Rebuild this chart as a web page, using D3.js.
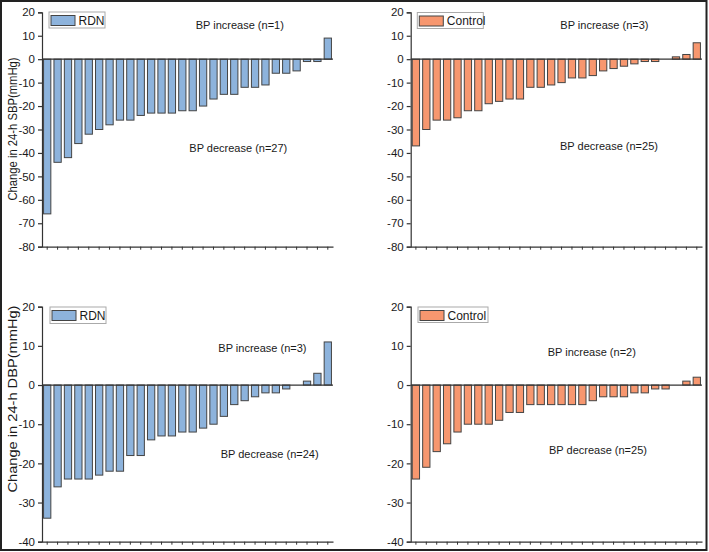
<!DOCTYPE html>
<html>
<head>
<meta charset="utf-8">
<script src="https://cdn.jsdelivr.net/npm/d3@7"></script>
<style>
  html, body { margin: 0; padding: 0; background: #fff; }
  svg { display: block; }
  text { font-family: "Liberation Sans", Arial, sans-serif; fill: #1a1a1a; }
</style>
</head>
<body>
<svg id="chart" width="709" height="552"></svg>
<script>
// ---- data ----
const rdnSBP  = [-66,-44,-42,-36,-32,-30,-28,-26,-26,-24,-23,-23,-23,-22,-22,-20,-17,-15,-15,-12,-12,-11,-6,-6,-5,-1,-1,9];
const ctrlSBP = [-37,-30,-26,-26,-25,-22,-22,-19,-18,-17,-17,-12,-12,-11,-10,-8,-8,-7,-5,-4,-3,-2,-1,-1,0,1,2,7];
const rdnDBP  = [-34,-26,-24,-24,-24,-23,-22,-22,-18,-18,-14,-13,-13,-12,-12,-11,-10,-8,-5,-4,-3,-2,-2,-1,0,1,3,11];
const ctrlDBP = [-24,-21,-17,-15,-12,-10,-10,-10,-9,-7,-7,-5,-5,-5,-5,-5,-5,-4,-3,-3,-3,-2,-2,-1,-1,0,1,2];
const sbpTicks = [20,10,0,-10,-20,-30,-40,-50,-60,-70,-80];
const dbpTicks = [20,10,0,-10,-20,-30,-40];
const legendNames = ["RDN","Control","RDN","Control"];
const increaseLabels = ["BP increase (n=1)","BP increase (n=3)","BP increase (n=3)","BP increase (n=2)"];
const decreaseLabels = ["BP decrease (n=27)","BP decrease (n=25)","BP decrease (n=24)","BP decrease (n=25)"];
const yTitles = ["Change in 24-h SBP(mmHg)", "Change in 24-h DBP(mmHg)"];

const blue = "#8db3dc", orange = "#f7976f", stroke = "#444";

const svg = d3.select("#chart");

// outer frame
svg.append("rect").attr("x",1).attr("y",1).attr("width",705.5).attr("height",549)
  .attr("fill","none").attr("stroke","#222").attr("stroke-width",2);

const panels = [
  {data: rdnSBP,  color: blue,   x0: 42,    x1: 333, yDom: [-80,20], yr: [246.7,12.3], ticks: sbpTicks,
   leg: {x:49, y:12, w:56, h:16}, inc: {x:195.7, y:29.3}, dec: {x:189.3, y:151.5}},
  {data: ctrlSBP, color: orange, x0: 410.7, x1: 702, yDom: [-80,20], yr: [246.7,12.3], ticks: sbpTicks,
   leg: {x:417.3, y:12.5, w:66, h:16}, inc: {x:560.3, y:29.3}, dec: {x:560, y:150}},
  {data: rdnDBP,  color: blue,   x0: 42,    x1: 333, yDom: [-40,20], yr: [541.7,306.7], ticks: dbpTicks,
   leg: {x:50, y:307, w:56, h:16.5}, inc: {x:218.3, y:351.5}, dec: {x:220.7, y:457.5}},
  {data: ctrlDBP, color: orange, x0: 410.7, x1: 702, yDom: [-40,20], yr: [541.7,306.7], ticks: dbpTicks,
   leg: {x:418, y:307, w:70, h:15.5}, inc: {x:547.7, y:355.5}, dec: {x:549, y:454}}
];

panels.forEach((p, i) => {
  const g = svg.append("g");
  const x = d3.scaleBand().domain(d3.range(p.data.length)).range([p.x0, p.x1])
    .paddingInner(0.3).paddingOuter(0.15);
  const y = d3.scaleLinear().domain(p.yDom).range(p.yr);

  // bars
  g.selectAll("rect.bar").data(p.data.map((v,k)=>({v,k})).filter(d => d.v !== 0))
    .join("rect").attr("class","bar")
    .attr("x", d => x(d.k))
    .attr("width", x.bandwidth())
    .attr("y", d => y(Math.max(0, d.v)))
    .attr("height", d => Math.abs(y(d.v) - y(0)))
    .attr("fill", p.color).attr("stroke", stroke).attr("stroke-width", 1);

  // zero line
  g.append("line").attr("x1", p.x0).attr("x2", p.x1).attr("y1", y(0)).attr("y2", y(0))
    .attr("stroke", "#333").attr("stroke-width", 1.2);

  // y axis
  const ya = g.append("g").attr("transform", `translate(${p.x0},0)`)
    .call(d3.axisLeft(y).tickValues(p.ticks).tickSize(4).tickPadding(3).tickFormat(d => String(d)));
  ya.select(".domain").attr("stroke","#333").attr("stroke-width",1.2);
  ya.selectAll(".tick line").attr("stroke","#333").attr("stroke-width",1.2);
  ya.selectAll(".tick text").style("font-size","11.5px").attr("fill","#1a1a1a")
    .style("font-family","'Liberation Sans', Arial, sans-serif");

  // x axis
  const xa = g.append("g").attr("transform", `translate(0,${p.yr[0]})`)
    .call(d3.axisBottom(x).tickSize(3).tickSizeOuter(0).tickFormat(""));
  xa.select(".domain").attr("stroke","#333").attr("stroke-width",1.2);
  xa.selectAll(".tick line").attr("stroke","#333").attr("stroke-width",1);

  // legend
  const L = p.leg;
  g.append("rect").attr("x",L.x).attr("y",L.y).attr("width",L.w).attr("height",L.h)
    .attr("fill","#fff").attr("stroke","#aaa").attr("stroke-width",1);
  g.append("rect").attr("x",L.x+2).attr("y",L.y+3.5).attr("width",24).attr("height",10)
    .attr("fill",p.color).attr("stroke",stroke).attr("stroke-width",1);
  g.append("text").attr("x",L.x+29.5).attr("y",L.y+12.5).style("font-size","12px").text(legendNames[i]);

  // annotations
  g.append("text").attr("x",p.inc.x).attr("y",p.inc.y).style("font-size","11px").text(increaseLabels[i]);
  g.append("text").attr("x",p.dec.x).attr("y",p.dec.y).style("font-size","11px").text(decreaseLabels[i]);
});

// y titles
svg.append("text").attr("transform","translate(16.5,129) rotate(-90)").attr("text-anchor","middle")
  .style("font-size","12px").attr("textLength",143).attr("lengthAdjust","spacingAndGlyphs").text(yTitles[0]);
svg.append("text").attr("transform","translate(16.5,399) rotate(-90)").attr("text-anchor","middle")
  .style("font-size","12px").attr("textLength",187).attr("lengthAdjust","spacingAndGlyphs").text(yTitles[1]);
</script>
</body>
</html>
